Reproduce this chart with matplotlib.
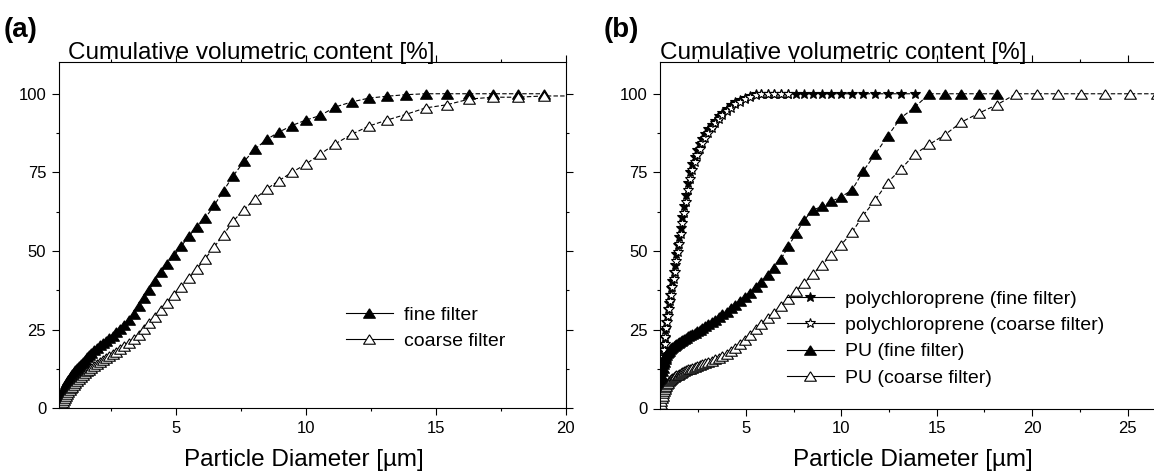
import matplotlib
matplotlib.use("Agg")

import matplotlib.pyplot as plt
from matplotlib.lines import Line2D
from matplotlib.ticker import MultipleLocator

plt.rcParams['font.family'] = ['Liberation Sans', 'DejaVu Sans']

# particle diameter bins [um], shared by every series
diameter = [0.51, 0.54, 0.57, 0.60, 0.63, 0.67, 0.70, 0.74, 0.78, 0.83, 0.87, 0.92, 0.97,
            1.03, 1.08, 1.14, 1.21, 1.27, 1.35, 1.42, 1.50, 1.58, 1.67, 1.76, 1.86, 1.97,
            2.08, 2.19, 2.31, 2.44, 2.58, 2.72, 2.87, 3.03, 3.20, 3.38, 3.57, 3.77,
            3.98, 4.20, 4.44, 4.68, 4.94, 5.22, 5.51, 5.81, 6.14, 6.48, 6.84, 7.22, 7.63,
            8.05, 8.50, 8.97, 9.47, 10.0, 10.56, 11.14, 11.77, 12.42, 13.11, 13.84,
            14.61, 15.43, 16.29, 17.19, 18.15, 19.16, 20.23, 21.35, 22.54, 23.80, 25.12, 26.52]

# panel (a) - cumulative volume [%]
fine_a = [0.5, 2.0, 3.0, 3.9, 4.7, 5.5, 6.2, 6.9, 7.6, 8.3, 9.0, 9.6, 10.3,
          11.0, 11.6, 12.2, 12.8, 13.4, 14.1, 14.8, 15.5, 16.2, 17.0, 17.7, 18.5, 19.3,
          20.0, 20.7, 21.4, 22.2, 23.1, 24.1, 25.2, 26.5, 28.0, 30.0, 32.4, 35.0,
          37.7, 40.5, 43.2, 45.9, 48.6, 51.6, 54.8, 57.6, 60.5, 64.5, 69.2, 74.0, 78.5,
          82.4, 85.5, 87.8, 89.9, 91.6, 93.1, 95.8, 97.4, 98.6, 99.2, 99.7,
          100, 100, 100, 100, 100, 100]
coarse_a = [0.0, 0.2, 0.5, 1.0, 1.5, 2.1, 2.7, 3.3, 3.9, 4.5, 5.1, 5.7, 6.3,
            6.9, 7.5, 8.1, 8.7, 9.3, 9.9, 10.5, 11.1, 11.7, 12.3, 12.9, 13.5, 14.1,
            14.7, 15.3, 15.9, 16.6, 17.3, 18.0, 18.8, 19.7, 20.7, 21.9, 23.4, 25.2,
            27.1, 29.1, 31.3, 33.6, 36.0, 38.7, 41.4, 44.3, 47.6, 51.3, 55.2, 59.6, 63.2,
            66.6, 69.7, 72.4, 75.0, 77.6, 80.8, 84.1, 87.1, 89.7, 91.6, 93.4,
            95.5, 96.5, 98.3, 98.9, 98.9, 99.3, 99.3]

# panel (b)
pc_fine = [5.0, 8.5, 12.0, 14.5, 16.5, 18.5, 20.5, 22.5, 24.8, 27.5, 29.5, 31.5, 33.5,
           36.0, 38.2, 40.5, 43.5, 45.5, 49.0, 51.8, 54.5, 57.5, 61.0, 64.3, 67.7, 71.5,
           75.0, 77.7, 80.0, 82.0, 84.0, 85.7, 87.2, 88.7, 90.2, 91.5, 92.8, 94.0,
           95.2, 96.3, 97.3, 98.1, 98.8, 99.4, 99.8, 100, 100, 100, 100, 100, 100,
           100, 100, 100, 100, 100, 100, 100, 100, 100, 100, 100]
pc_coarse = [3.0, 6.5, 10.0, 12.5, 14.5, 16.5, 18.5, 20.5, 22.8, 25.5, 27.5, 29.5, 31.5,
             34.0, 36.2, 38.5, 41.3, 43.5, 46.8, 49.6, 52.3, 55.3, 58.8, 62.2, 65.7, 69.5,
             73.0, 75.8, 78.3, 80.5, 82.6, 84.4, 86.0, 87.6, 89.2, 90.6, 92.0, 93.3,
             94.5, 95.6, 96.6, 97.5, 98.3, 99.0, 99.5, 99.8, 100, 100, 100, 100]
pu_fine = [6.0, 8.5, 10.5, 12.0, 13.0, 14.0, 14.9, 15.7, 16.4, 17.0, 17.5, 18.0, 18.4,
           18.8, 19.2, 19.5, 19.8, 20.1, 20.4, 20.7, 21.0, 21.3, 21.7, 22.1, 22.5, 22.9,
           23.3, 23.7, 24.1, 24.6, 25.1, 25.6, 26.2, 26.8, 27.5, 28.2, 29.0, 29.9,
           30.8, 31.8, 32.9, 34.0, 35.3, 36.8, 38.5, 40.3, 42.3, 44.6, 47.5, 51.5, 55.7,
           59.9, 63.0, 64.2, 65.8, 67.3, 69.4, 75.4, 80.8, 86.5, 92.3, 95.7,
           100, 100, 100, 100, 100]
pu_coarse = [0.5, 1.5, 2.5, 3.3, 4.1, 4.9, 5.6, 6.2, 6.8, 7.3, 7.8, 8.2, 8.6,
             9.0, 9.3, 9.6, 9.9, 10.2, 10.5, 10.8, 11.0, 11.3, 11.6, 11.8, 12.1, 12.4,
             12.6, 12.9, 13.2, 13.5, 13.8, 14.1, 14.4, 14.8, 15.2, 15.6, 16.1, 16.7,
             17.4, 18.2, 19.2, 20.5, 21.9, 23.5, 25.2, 27.0, 28.7, 30.4, 32.5, 34.8, 37.3,
             39.9, 42.6, 45.6, 48.7, 52.1, 56.0, 61.3, 66.2, 71.8, 76.0, 80.8,
             83.9, 87.0, 91.0, 93.8, 96.5, 100, 100, 100, 100, 100, 100, 100]

W, H = 1154, 475
fig = plt.figure(figsize=(W / 100, H / 100), dpi=100)


def px_box(l, t, r, b):
    return [l / W, 1 - b / H, (r - l) / W, (b - t) / H]


ax_a = fig.add_axes(px_box(58.7, 62.3, 565.7, 408.3))
ax_b = fig.add_axes(px_box(660.1, 62.3, 1175.3, 408.5))

tri = [(0, 0.8), (-1, -0.8), (1, -0.8), (0, 0.8)]


def style(marker, filled, ms):
    return dict(color='black', marker=marker, ms=ms, mec='black', mew=0.8,
                mfc='black' if filled else 'white')


def draw(ax, y, marker, filled, ms):
    ax.plot(diameter[:len(y)], y, lw=0.8, ls=(0, (4, 2)), **style(marker, filled, ms))


draw(ax_a, fine_a, tri, True, 8.5)
draw(ax_a, coarse_a, tri, False, 8.5)

draw(ax_b, pc_fine, '*', True, 7)
draw(ax_b, pc_coarse, '*', False, 7)
draw(ax_b, pu_fine, tri, True, 8.5)
draw(ax_b, pu_coarse, tri, False, 8.5)

for ax in (ax_a, ax_b):
    ax.set_ylim(0, 110)
    ax.yaxis.set_major_locator(MultipleLocator(25))
    ax.yaxis.set_minor_locator(MultipleLocator(12.5))
    ax.xaxis.set_major_locator(MultipleLocator(5))
    ax.xaxis.set_minor_locator(MultipleLocator(2.5))
    ax.tick_params(which='both', direction='out', top=True, right=True,
                   width=0.8, labelsize=12)
    ax.tick_params(which='major', length=5, pad=4)
    ax.tick_params(which='minor', length=2.5)
    for s in ax.spines.values():
        s.set_linewidth(0.8)

ax_a.set_xlim(0.5, 20)
ax_b.set_xlim(0.5, 27.5)


def handle(marker, filled, ms):
    return Line2D([], [], lw=0.8, **style(marker, filled, ms))


leg_kw = dict(frameon=False, fontsize=14, handlelength=2.4, handletextpad=0.6,
              labelspacing=0.45, borderpad=0, borderaxespad=0, loc='upper left')
fig.legend([handle(tri, True, 8.5), handle(tri, False, 8.5)],
           ['fine filter', 'coarse filter'],
           bbox_to_anchor=(346 / W, 1 - 306 / H), **leg_kw)
fig.legend([handle('*', True, 7), handle('*', False, 7),
            handle(tri, True, 8.5), handle(tri, False, 8.5)],
           ['polychloroprene (fine filter)', 'polychloroprene (coarse filter)',
            'PU (fine filter)', 'PU (coarse filter)'],
           bbox_to_anchor=(787 / W, 1 - 290 / H), **leg_kw)

for x0, tx, lab in [(4, 68, '(a)'), (604, 660, '(b)')]:
    fig.text(x0 / W, 1 - 37 / H, lab, fontsize=20, fontweight='bold', va='baseline')
    fig.text(tx / W, 1 - 59 / H, 'Cumulative volumetric content [%]',
             fontsize=17.5, va='baseline')

fig.text(304 / W, 1 - 466 / H, 'Particle Diameter [µm]', fontsize=17.5,
         ha='center', va='baseline')
fig.text(913 / W, 1 - 466 / H, 'Particle Diameter [µm]', fontsize=17.5,
         ha='center', va='baseline')

fig.savefig('out.png', dpi=100)
